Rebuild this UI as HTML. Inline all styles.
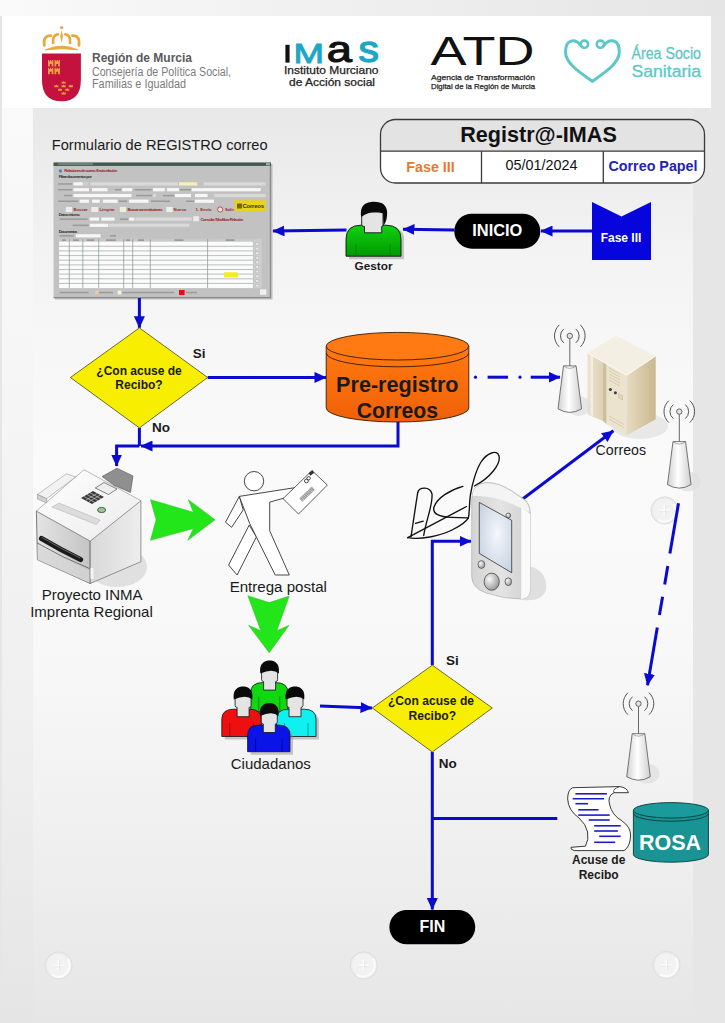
<!DOCTYPE html>
<html><head><meta charset="utf-8"><title>Registro IMAS</title>
<style>
html,body{margin:0;padding:0;width:725px;height:1023px;overflow:hidden;background:#e6e6e6}
svg{position:absolute;left:0;top:0;display:block}
text{font-family:"Liberation Sans",sans-serif}
</style></head><body>
<svg width="725" height="1023" viewBox="0 0 725 1023">
<defs>
<linearGradient id="gPanel" x1="0" y1="108" x2="0" y2="1023" gradientUnits="userSpaceOnUse">
<stop offset="0" stop-color="#e8e8e8"/>
<stop offset="0.057" stop-color="#ececec"/>
<stop offset="0.155" stop-color="#f3f3f3"/>
<stop offset="0.264" stop-color="#f7f7f7"/>
<stop offset="0.396" stop-color="#fafafa"/>
<stop offset="0.592" stop-color="#f8f8f8"/>
<stop offset="0.811" stop-color="#efefef"/>
<stop offset="1" stop-color="#e6e6e6"/>
</linearGradient>
<linearGradient id="gTop" x1="0" y1="0" x2="725" y2="0" gradientUnits="userSpaceOnUse"><stop offset="0" stop-color="#fafafa"/><stop offset="0.2" stop-color="#f5f5f5"/><stop offset="0.6" stop-color="#ededed"/><stop offset="1" stop-color="#e5e5e5"/></linearGradient>
<linearGradient id="gStrip" x1="0" y1="0" x2="0" y2="1023" gradientUnits="userSpaceOnUse">
<stop offset="0" stop-color="#fbfbfb"/>
<stop offset="0.4" stop-color="#f5f5f5"/>
<stop offset="0.72" stop-color="#efefef"/>
<stop offset="1" stop-color="#e5e5e5"/>
</linearGradient>
</defs>

<!-- BACKGROUND -->
<rect x="0" y="0" width="725" height="1023" fill="#e6e6e6"/>
<rect x="0" y="0" width="725" height="16" fill="url(#gTop)"/>
<rect x="2" y="16" width="31" height="1007" fill="url(#gStrip)"/>
<rect x="33" y="108" width="660" height="915" fill="url(#gPanel)"/>
<rect x="2" y="16" width="709" height="92" fill="#ffffff"/>
<!-- SCREWS -->
<defs>
<g id="screw">
<circle cx="0" cy="0" r="13.6" fill="#ececec" stroke="#dedede" stroke-width="1"/>
<circle cx="-0.6" cy="-0.6" r="11" fill="#f2f2f2"/>
<path d="M9.5,-6 A11.5,11.5 0 0 1 -6,9.8" fill="none" stroke="#fbfbfb" stroke-width="2.2" stroke-linecap="round"/>
<path d="M-5.5,0 H5 M-0.3,-5.5 V5" stroke="#fcfcfc" stroke-width="1.6"/>
<path d="M-5.5,1.2 H5 M1,-5.5 V5" stroke="#dcdcdc" stroke-width="0.5"/>
</g>
</defs>
<use href="#screw" x="58.6" y="965.6"/>
<use href="#screw" x="363.8" y="965.4"/>
<use href="#screw" x="666.5" y="965"/>
<use href="#screw" x="664.6" y="510.4"/>



<!-- HEADER: Region de Murcia -->
<g id="murcia">
<g fill="none" stroke="#eba83a" stroke-width="2.7" stroke-linecap="round">
<path d="M44.3,45.5 C43.2,38.5 45.5,35.5 50.8,35.6"/>
<path d="M78.9,45.5 C80,38.5 77.7,35.5 72.4,35.6"/>
<path d="M53.2,43 C52.6,37.5 54.4,34.5 57.9,34.3"/>
<path d="M70,43 C70.6,37.5 68.8,34.5 65.3,34.3"/>
</g>
<path d="M61.6,30.2 L63,36 L61.6,42.8 L60.2,36 Z" fill="#eba83a"/>
<circle cx="61.6" cy="27.6" r="1.6" fill="#eba83a"/>
<path d="M45.5,49.8 Q61.6,42.5 77.7,49.8 Q61.6,47.6 45.5,49.8 Z" fill="#eba83a" stroke="#eba83a" stroke-width="1" stroke-linejoin="round"/>
<path d="M42,53.6 H80.9 V80 Q80.9,101.3 61.5,101.3 Q42,101.3 42,80 Z" fill="#c4123e"/>
<g fill="#f2a044">
<path d="M48,66.5 V60 H49.2 V61.2 H50.1 V60 H51.3 V61.2 H52.2 V60 H53.4 V66.5 H51.6 V64 H49.8 V66.5 Z"/><path d="M54.5,66.5 V60 H55.7 V61.2 H56.6 V60 H57.8 V61.2 H58.7 V60 H59.9 V66.5 H58.1 V64 H56.3 V66.5 Z"/><path d="M48,74.3 V67.8 H49.2 V69.0 H50.1 V67.8 H51.3 V69.0 H52.2 V67.8 H53.4 V74.3 H51.6 V71.8 H49.8 V74.3 Z"/><path d="M54.5,74.3 V67.8 H55.7 V69.0 H56.6 V67.8 H57.8 V69.0 H58.7 V67.8 H59.9 V74.3 H58.1 V71.8 H56.3 V74.3 Z"/><path d="M61.6,83.60000000000001 V81.2 L62.6,82.2 L63.6,80.9 L64.6,82.2 L65.6,81.2 V83.60000000000001 Z"/><path d="M54.4,87.2 V84.8 L55.4,85.8 L56.4,84.5 L57.4,85.8 L58.4,84.8 V87.2 Z"/><path d="M61.6,87.2 V84.8 L62.6,85.8 L63.6,84.5 L64.6,85.8 L65.6,84.8 V87.2 Z"/><path d="M68.8,87.2 V84.8 L69.8,85.8 L70.8,84.5 L71.8,85.8 L72.8,84.8 V87.2 Z"/><path d="M58,90.80000000000001 V88.4 L59,89.4 L60,88.10000000000001 L61,89.4 L62,88.4 V90.80000000000001 Z"/><path d="M65.2,90.80000000000001 V88.4 L66.2,89.4 L67.2,88.10000000000001 L68.2,89.4 L69.2,88.4 V90.80000000000001 Z"/><path d="M61.6,94.4 V92 L62.6,93 L63.6,91.7 L64.6,93 L65.6,92 V94.4 Z"/>
</g>
<text x="92" y="62" font-size="12" font-weight="bold" fill="#58595b">Región de Murcia</text>
<text x="92" y="75.5" font-size="12" fill="#7b7c7e" textLength="139" lengthAdjust="spacingAndGlyphs">Consejería de Política Social,</text>
<text x="92" y="87.5" font-size="12" fill="#7b7c7e" textLength="94" lengthAdjust="spacingAndGlyphs">Familias e Igualdad</text>
</g>

<!-- HEADER: IMAS -->
<g id="imas">
<rect x="285.4" y="44.8" width="4.2" height="17.8" fill="#111"/>
<text x="293.5" y="62.6" font-size="27" fill="#1fa6c6" stroke="#1fa6c6" stroke-width="0.9" textLength="30.5" lengthAdjust="spacingAndGlyphs">M</text>
<text x="326.8" y="62.4" font-size="36.5" fill="#111" stroke="#111" stroke-width="1.1" textLength="25.2" lengthAdjust="spacingAndGlyphs">a</text>
<text x="358.6" y="62.4" font-size="36" font-weight="normal" fill="#1fa6c6" stroke="#1fa6c6" stroke-width="1.3" textLength="20.4" lengthAdjust="spacingAndGlyphs">s</text>
<text x="284" y="74.3" font-size="10.5" fill="#222" stroke="#222" stroke-width="0.25" textLength="94.5" lengthAdjust="spacingAndGlyphs">Instituto Murciano</text>
<text x="289" y="86" font-size="10.5" fill="#222" stroke="#222" stroke-width="0.25" textLength="86" lengthAdjust="spacingAndGlyphs">de Acción social</text>
</g>

<!-- HEADER: ATD -->
<g id="atd">
<text x="430.5" y="65.3" font-size="40" fill="#111" textLength="104" lengthAdjust="spacingAndGlyphs">ATD</text>
<text x="431" y="79.7" font-size="7.8" fill="#222" stroke="#222" stroke-width="0.25" textLength="104" lengthAdjust="spacingAndGlyphs">Agencia de Transformación</text>
<text x="431" y="88.6" font-size="7.8" fill="#222" stroke="#222" stroke-width="0.25" textLength="104" lengthAdjust="spacingAndGlyphs">Digital de la Región de Murcia</text>
</g>

<!-- HEADER: Area Socio Sanitaria -->
<g id="ass">
<path d="M580.8,45.5 C575,38 565.5,39 565.5,52 C565.5,63 579,72 592.3,81.3 C605.5,72 619.3,63 619.3,52 C619.3,39 609.6,38 603.8,45.5" fill="none" stroke="#5cc7c7" stroke-width="3" stroke-linecap="round"/>
<circle cx="584.4" cy="44.3" r="3.7" fill="none" stroke="#5cc7c7" stroke-width="2.6"/>
<circle cx="600.4" cy="44.3" r="3.7" fill="none" stroke="#5cc7c7" stroke-width="2.6"/>
<text x="631.5" y="59" font-size="14.2" fill="#5cc7c7" stroke="#5cc7c7" stroke-width="0.25" textLength="79" lengthAdjust="spacingAndGlyphs" transform="translate(631.5,59) scale(0.88,1.1) translate(-631.5,-59)">Área Socio</text>
<text x="631.5" y="76.7" font-size="14.2" fill="#5cc7c7" stroke="#5cc7c7" stroke-width="0.25" textLength="79" lengthAdjust="spacingAndGlyphs" transform="translate(631.5,76.7) scale(0.88,1.1) translate(-631.5,-76.7)">Sanitaria</text>
</g>

<!-- TITLE BOX -->
<g id="titlebox">
<path d="M380.5,151.2 V134.5 Q380.5,119.5 395.5,119.5 H689.5 Q704.5,119.5 704.5,134.5 V151.2 Z" fill="#e3e3e3"/>
<path d="M380.5,151.2 V168 Q380.5,183 395.5,183 H689.5 Q704.5,183 704.5,168 V151.2 Z" fill="#ffffff"/>
<rect x="380.5" y="119.5" width="324" height="63.5" rx="15" ry="15" fill="none" stroke="#3a3a3a" stroke-width="1.3"/>
<line x1="380.5" y1="151.2" x2="704.5" y2="151.2" stroke="#3a3a3a" stroke-width="1.3"/>
<line x1="481.5" y1="151.2" x2="481.5" y2="183" stroke="#3a3a3a" stroke-width="1.3"/>
<line x1="603.3" y1="151.2" x2="603.3" y2="183" stroke="#3a3a3a" stroke-width="1.3"/>
<text x="538.5" y="142" font-size="21.6" font-weight="bold" fill="#111" text-anchor="middle">Registr@-IMAS</text>
<text x="430.5" y="171.8" font-size="14.3" font-weight="bold" fill="#e8782a" text-anchor="middle">Fase III</text>
<text x="541.5" y="170.1" font-size="14.4" fill="#111" text-anchor="middle">05/01/2024</text>
<text x="653" y="171.3" font-size="14.3" font-weight="bold" fill="#2323b4" text-anchor="middle">Correo Papel</text>
</g>

<text x="51.8" y="149.6" font-size="14.6" fill="#1a1a1a">Formulario de REGISTRO correo</text>

<!-- FORM SCREENSHOT -->
<g id="form">
<rect x="55" y="164" width="217.5" height="135.5" fill="#9a9a9a" opacity="0.6"/>
<rect x="53.5" y="162.5" width="217.5" height="135.5" fill="#c2c2c2"/>
<rect x="53.5" y="162.5" width="217.5" height="3.4" fill="#3f5a4c"/>
<rect x="58" y="163.3" width="35" height="1.4" fill="#7f9588"/>
<rect x="266" y="163" width="4" height="2.4" fill="#9aa"/>
<rect x="269.8" y="166" width="1.2" height="132" fill="#8c8c8c"/>
<!-- header texts -->
<circle cx="60.4" cy="170.9" r="1.6" fill="#5a7ab8"/>
<text x="64.2" y="172.4" font-size="4.2" font-weight="bold" fill="#9a2a2a" textLength="53">Relaciones de correo: Envío relación</text>
<text x="58.8" y="178" font-size="4.2" font-weight="bold" fill="#333" textLength="33">Filtrar documentos por</text>
<!-- row1 -->
<g fill="#8a8a8a" opacity="0.7">
<rect x="58" y="183.2" width="14" height="1.5"/>
<rect x="58" y="189" width="14" height="1.5"/>
<rect x="64" y="194.8" width="8" height="1.5"/>
<rect x="58" y="200.5" width="20" height="1.5"/>
<rect x="115" y="189" width="6" height="1.5"/>
<rect x="134.5" y="189" width="17" height="1.5"/>
<rect x="136" y="194.8" width="16" height="1.5"/>
<rect x="119" y="200.5" width="8" height="1.5"/>
<rect x="161" y="183.2" width="17" height="1.5"/>
<rect x="180" y="189" width="11" height="1.5"/>
<rect x="163" y="194.8" width="11" height="1.5"/>
<rect x="151" y="200.5" width="19" height="1.5"/>
<rect x="186" y="200.5" width="8" height="1.5"/>
<rect x="59.6" y="218.4" width="28" height="1.5"/>
<rect x="120" y="218.4" width="8" height="1.5"/>
<rect x="72.7" y="224.6" width="16" height="1.5"/>
<rect x="59.6" y="235.1" width="14" height="1.5"/>
<rect x="110" y="235.1" width="6" height="1.5"/>
<rect x="59.6" y="291.8" width="29" height="1.5"/>
<rect x="99" y="291.8" width="14" height="1.5"/>
<rect x="122" y="291.8" width="52" height="1.5"/>
<rect x="186" y="291.8" width="11" height="1.5"/>
</g>
<g fill="#f7f7f7">
<rect x="73.5" y="182.3" width="9.3" height="3.2"/>
<rect x="83.5" y="182.3" width="4.7" height="3.2" fill="#cfcfcf"/>
<rect x="73.5" y="188.1" width="15.5" height="3.2"/>
<rect x="92" y="188.1" width="15.5" height="3.2"/>
<rect x="122.2" y="188.1" width="10" height="3.2"/>
<rect x="153" y="188.1" width="11.8" height="3.2"/>
<rect x="167" y="188.1" width="12" height="3.2"/>
<rect x="191.7" y="188.1" width="69" height="3.2"/>
<rect x="73.5" y="193.9" width="58" height="3.2"/>
<rect x="175" y="193.9" width="16" height="3.2"/>
<rect x="195" y="193.9" width="12.6" height="3.2"/>
<rect x="79.7" y="199.6" width="9.3" height="3.2"/>
<rect x="92" y="199.6" width="7.8" height="3.2"/>
<rect x="102.9" y="199.6" width="14.6" height="3.2"/>
<rect x="129.1" y="199.6" width="19.4" height="3.2"/>
<rect x="195" y="199.6" width="19" height="3.2"/>
<rect x="89.7" y="217.5" width="9.3" height="3.2"/>
<rect x="101.3" y="217.5" width="13.2" height="3.2"/>
<rect x="129.1" y="217.5" width="5.4" height="3.2"/>
<rect x="89.7" y="223.7" width="18.6" height="3.2"/>
<rect x="75.8" y="234.2" width="24.7" height="3.2"/>
</g>
<g fill="#d9d9d9">
<rect x="90.5" y="182.3" width="87.5" height="3.2"/>
<rect x="203.6" y="182.3" width="62" height="3.2"/>
<rect x="153" y="193.9" width="3" height="3.2"/>
<rect x="214" y="193.9" width="51.5" height="3.2"/>
<rect x="135.3" y="217.5" width="56.4" height="3.2"/>
<rect x="109" y="223.7" width="80.4" height="3.2"/>
</g>
<rect x="179" y="182.3" width="18.3" height="3.2" fill="#f4f2b8"/>
<!-- buttons row -->
<rect x="65.8" y="207" width="6.2" height="5" fill="#ececec"/>
<rect x="91.3" y="207" width="6.9" height="5" fill="#f2e8e8"/>
<rect x="119.9" y="207" width="6.1" height="5" fill="#f0f0d8"/>
<rect x="166.3" y="207" width="6.4" height="5" fill="#e8f2e8"/>
<circle cx="220.2" cy="209.5" r="2.6" fill="#f0e0e0" stroke="#c03030" stroke-width="0.8"/>
<g fill="#9a2a2a" font-size="4.2" font-weight="bold">
<text x="73.5" y="211">Buscar</text>
<text x="99.5" y="211">Limpiar</text>
<text x="127.6" y="211" textLength="35">Buscar con restricciones</text>
<text x="173.5" y="211">Nuevo</text>
<text x="195.5" y="211">1. Envío</text>
<text x="225" y="211">Salir</text>
<text x="200.5" y="220.5" textLength="42.8">Consulta / Modificar Relación</text>
</g>
<rect x="193.3" y="216.2" width="5.6" height="5" fill="#ececec"/>
<rect x="234.6" y="200.2" width="31" height="11.1" fill="#e8d21c"/>
<rect x="237" y="203.5" width="5" height="5" fill="#5a4a10" opacity="0.8"/><text x="242.5" y="208.3" font-size="6" font-weight="bold" fill="#3a3010" textLength="21.5">Correos</text>

<text x="58.8" y="216" font-size="4.2" font-weight="bold" fill="#333" textLength="21">Datos retorno</text>
<text x="58.8" y="232.6" font-size="4.2" font-weight="bold" fill="#333" textLength="18.6">Documentos</text>
<!-- table -->
<rect x="59.1" y="238.8" width="193.8" height="3" fill="#c9c9c9"/>
<rect x="59.1" y="241.7" width="193.8" height="46.4" fill="#fbfbfb"/>
<g stroke="#9aa6a0" stroke-width="0.7">
<line x1="59.1" y1="246.3" x2="252.9" y2="246.3"/>
<line x1="59.1" y1="250.9" x2="252.9" y2="250.9"/>
<line x1="59.1" y1="255.6" x2="252.9" y2="255.6"/>
<line x1="59.1" y1="260.2" x2="252.9" y2="260.2"/>
<line x1="59.1" y1="264.9" x2="252.9" y2="264.9"/>
<line x1="59.1" y1="269.5" x2="252.9" y2="269.5"/>
<line x1="59.1" y1="274.1" x2="252.9" y2="274.1"/>
<line x1="59.1" y1="278.8" x2="252.9" y2="278.8"/>
<line x1="59.1" y1="283.4" x2="252.9" y2="283.4"/>
</g>
<g stroke="#8a9a94" stroke-width="0.75">
<line x1="69.3" y1="239" x2="69.3" y2="288"/>
<line x1="82.8" y1="239" x2="82.8" y2="288"/>
<line x1="98.7" y1="239" x2="98.7" y2="288"/>
<line x1="123.7" y1="239" x2="123.7" y2="288"/>
<line x1="132.7" y1="239" x2="132.7" y2="288"/>
<line x1="150.3" y1="239" x2="150.3" y2="288"/>
<line x1="207.6" y1="239" x2="207.6" y2="288"/>
</g>
<rect x="253.7" y="238.8" width="8" height="49.5" fill="#cdcdcd"/>
<g fill="#6a6a6a" opacity="0.6"><rect x="62.0" y="239.4" width="4" height="1.4"/><rect x="73.0" y="239.4" width="6" height="1.4"/><rect x="86.5" y="239.4" width="8" height="1.4"/><rect x="106.0" y="239.4" width="10" height="1.4"/><rect x="126.0" y="239.4" width="4" height="1.4"/><rect x="138.0" y="239.4" width="6" height="1.4"/><rect x="174.5" y="239.4" width="9" height="1.4"/><rect x="225.5" y="239.4" width="9" height="1.4"/></g>
<g fill="#efefef" stroke="#999" stroke-width="0.3"><rect x="256" y="242.5" width="2.6" height="2.6"/><rect x="256" y="247.1" width="2.6" height="2.6"/><rect x="256" y="251.8" width="2.6" height="2.6"/><rect x="256" y="256.4" width="2.6" height="2.6"/><rect x="256" y="261.0" width="2.6" height="2.6"/><rect x="256" y="265.6" width="2.6" height="2.6"/><rect x="256" y="270.3" width="2.6" height="2.6"/><rect x="256" y="274.9" width="2.6" height="2.6"/><rect x="256" y="279.5" width="2.6" height="2.6"/><rect x="256" y="284.2" width="2.6" height="2.6"/></g>
<rect x="224" y="272.3" width="13.8" height="5.1" fill="#eeee20"/>
<rect x="95.1" y="290.5" width="3.5" height="4" fill="#f3c79c"/>
<rect x="117.6" y="290.5" width="3.8" height="4" fill="#f4f4d8"/>
<rect x="179" y="290" width="5.6" height="5" fill="#e01010"/>
<rect x="260" y="289.3" width="6.3" height="5.5" fill="#f0f0f0"/>
<rect x="53.5" y="297" width="217.5" height="1.2" fill="#8a8a8a"/>
</g>

<!-- GESTOR -->
<defs>
<linearGradient id="gGreen" x1="0" y1="0" x2="0" y2="1">
<stop offset="0" stop-color="#10d010"/><stop offset="1" stop-color="#009a00"/>
</linearGradient>
<linearGradient id="gOrange" x1="0" y1="0" x2="0" y2="1">
<stop offset="0" stop-color="#ff7a10"/><stop offset="1" stop-color="#f06008"/>
</linearGradient>
<marker id="ah" viewBox="0 0 12 11" refX="11.5" refY="5.5" markerWidth="12" markerHeight="11" markerUnits="userSpaceOnUse" orient="auto">
<path d="M0,0 L12,5.5 L0,11 Z" fill="#0a0ad2"/>
</marker>
</defs>
<g id="gestor">
<g stroke="#111" stroke-width="0.9"><path d="M349,259.2 V238.2 Q349,228.2 361,228.2 H392 Q404,228.2 404,238.2 V259.2 Z" fill="#8a8a8a" opacity="0.45" stroke="none"/><path d="M346,256.2 V239.2 Q346,225.2 361,225.2 H386 Q401,225.2 401,239.2 V256.2 Z" fill="url(#gGreen)"/><path d="M356,256.2 V244.2 M390,256.2 V244.2" stroke="#0a6a0a" stroke-width="0.7"/><path d="M361.7,212 V225 Q361.7,226.5 364.5,226.5 V232.8 H381.7 V226.5 Q383,226.5 383,225 V212 Z" fill="#e4e4e4"/><path d="M361.2,217 C359.5,205 366,201.7 374,201.7 C382,201.7 388.5,205 387,216 C386.7,220 385.5,223 383.5,225.5 L383,213.5 Q372,209.5 361.2,217 Z" fill="#0a0a0a" stroke="none"/></g>
<text x="373.5" y="270" font-size="11.8" font-weight="bold" fill="#1a1a1a" text-anchor="middle">Gestor</text>
</g>

<!-- INICIO pill -->
<rect x="454.3" y="213.7" width="86" height="35" rx="17.5" fill="#000"/>
<text x="497.3" y="235.9" font-size="16.4" font-weight="bold" fill="#fff" text-anchor="middle">INICIO</text>

<!-- FASE III shape -->
<path d="M592,202 L621.5,216.5 L651,202 V260 H592 Z" fill="#0606dc"/>
<text x="621" y="241.7" font-size="12" font-weight="bold" fill="#fff" text-anchor="middle">Fase III</text>

<!-- ARROWS top -->
<g stroke="#0a0ad2" stroke-width="3" fill="none">
<line x1="592" y1="231" x2="541" y2="231" marker-end="url(#ah)"/>
<line x1="454.3" y1="230" x2="403" y2="229.3" marker-end="url(#ah)"/>
<line x1="346.5" y1="230" x2="273" y2="231.1" marker-end="url(#ah)"/>
<line x1="139.4" y1="298" x2="139.4" y2="327.8" marker-end="url(#ah)"/>
<line x1="207.7" y1="377.5" x2="326" y2="377.4" marker-end="url(#ah)"/>
<polyline points="139.4,427.9 139.4,446"/>
<polyline points="398,421.5 398,446 141,446" marker-end="url(#ah)"/>
<polyline points="139.4,446 116.6,446 116.6,466" marker-end="url(#ah)"/>
<line x1="520" y1="501" x2="613.4" y2="430.7" marker-end="url(#ah)"/>
<polyline points="432.3,665.2 432.3,541.3 471,541.3" marker-end="url(#ah)"/>
<line x1="320" y1="706" x2="372" y2="708" marker-end="url(#ah)"/>
<line x1="432.3" y1="752" x2="432.3" y2="909.5" marker-end="url(#ah)"/>
<line x1="432.3" y1="818.6" x2="557.3" y2="818.6"/>
<line x1="678.5" y1="503.3" x2="669.9" y2="553.6"/><line x1="667.8" y1="566" x2="664.7" y2="584.4"/><line x1="662.6" y1="596.7" x2="659.4" y2="615"/><line x1="657.3" y1="627.4" x2="647.5" y2="685.2" marker-end="url(#ah)"/>
</g>
<g stroke="#0a0ad2" stroke-width="3" fill="none">
<circle cx="475.5" cy="377.2" r="1.6" fill="#0a0ad2" stroke="none"/>
<line x1="487.6" y1="377.2" x2="508" y2="377.2"/>
<circle cx="520" cy="377.2" r="1.6" fill="#0a0ad2" stroke="none"/>
<line x1="530.7" y1="377.2" x2="560" y2="377.2" marker-end="url(#ah)"/>
</g>

<!-- DIAMONDS -->
<path d="M139.4,327.9 L207.7,377.5 L139.4,427.9 L70.4,377.5 Z" fill="#f8ee00" stroke="#4a4a20" stroke-width="0.8"/>
<text x="139" y="375" font-size="12" font-weight="bold" fill="#1a1a1a" text-anchor="middle">¿Con acuse de</text>
<text x="139" y="389" font-size="12" font-weight="bold" fill="#1a1a1a" text-anchor="middle">Recibo?</text>
<text x="192.8" y="358.4" font-size="13.5" font-weight="bold" fill="#1a1a1a">Si</text>
<text x="151.9" y="432.4" font-size="13.5" font-weight="bold" fill="#1a1a1a">No</text>

<path d="M432.3,665.2 L492.3,708 L432.3,752 L372.3,708 Z" fill="#f8ee00" stroke="#4a4a20" stroke-width="0.8"/>
<text x="431" y="705" font-size="12.1" font-weight="bold" fill="#1a1a1a" text-anchor="middle">¿Con acuse de</text>
<text x="432.3" y="720" font-size="12.1" font-weight="bold" fill="#1a1a1a" text-anchor="middle">Recibo?</text>
<text x="446" y="664.8" font-size="13.5" font-weight="bold" fill="#1a1a1a">Si</text>
<text x="438.8" y="768" font-size="13.5" font-weight="bold" fill="#1a1a1a">No</text>

<!-- CYLINDER Pre-registro -->
<g id="cyl1">
<path d="M326.2,346.2 V408 A71.3,14 0 0 0 468.8,408 V346.2 Z" fill="url(#gOrange)" stroke="#3a1a00" stroke-width="0.9"/>
<ellipse cx="397.5" cy="346.2" rx="71.3" ry="13.8" fill="#ff7a12" stroke="#3a1a00" stroke-width="0.9"/>
<path d="M326.2,353 A71.3,13.8 0 0 0 468.8,353" fill="none" stroke="#3a1a00" stroke-width="0.9"/>
<text x="397.3" y="392.3" font-size="21.6" font-weight="bold" fill="#1a1a1a" text-anchor="middle">Pre-registro</text>
<text x="397.3" y="418" font-size="21.2" font-weight="bold" fill="#1a1a1a" text-anchor="middle">Correos</text>
</g>

<!-- FIN pill -->
<rect x="389.4" y="910" width="85.8" height="34.3" rx="17.2" fill="#000"/>
<text x="432.3" y="932" font-size="16" font-weight="bold" fill="#fff" text-anchor="middle">FIN</text>

<!-- ROSA cylinder -->
<g id="rosa">
<path d="M633.4,810.3 V854.5 A37.5,7.7 0 0 0 708.4,854.5 V810.3 Z" fill="#189494" stroke="#0a3a3a" stroke-width="0.9"/>
<ellipse cx="670.9" cy="810.3" rx="37.5" ry="7.7" fill="#1a9a9a" stroke="#0a3a3a" stroke-width="0.9"/>
<path d="M633.4,813.5 A37.5,7.7 0 0 0 708.4,813.5" fill="none" stroke="#0a3a3a" stroke-width="0.9"/>
<text x="670" y="849.6" font-size="21.5" font-weight="bold" fill="#fff" text-anchor="middle">ROSA</text>
</g>

<!-- GREEN ARROWS -->
<path d="M150.5,499.7 L193.4,512.3 L188.4,499.7 L215,519.8 L187.8,540.3 L193.4,528.5 L150.5,540.3 L156.1,519.8 Z" fill="#22e51a" stroke="#3ac030" stroke-width="0.6"/>
<path d="M247.9,595.8 L269.2,602.6 L289.2,596.1 L276.8,630.7 L288.9,625.4 L269.2,652.7 L248.7,625.4 L260.8,630.7 Z" fill="#22e51a" stroke="#3ac030" stroke-width="0.6"/>

<!-- PRINTER -->
<defs>
<linearGradient id="gPrFront" x1="0" y1="0" x2="1" y2="0">
<stop offset="0" stop-color="#e4e4e4"/><stop offset="1" stop-color="#c4c4c4"/>
</linearGradient>
<linearGradient id="gPrRight" x1="0" y1="0" x2="1" y2="0">
<stop offset="0" stop-color="#d8d8d8"/><stop offset="1" stop-color="#ededed"/>
</linearGradient>
<linearGradient id="gPrTop" x1="0" y1="0" x2="1" y2="1">
<stop offset="0" stop-color="#ffffff"/><stop offset="1" stop-color="#ebebeb"/>
</linearGradient>
</defs>
<g id="printer">
<ellipse cx="117" cy="567" rx="30" ry="20" fill="#d9d9d9" opacity="0.8"/>
<path d="M36.4,511 L90.2,541 L90.2,583.5 L37.4,559.7 Z" fill="url(#gPrFront)" stroke="#444" stroke-width="0.7"/>
<path d="M90.2,541 L140.9,500.7 L140.9,561.7 L90.2,583.5 Z" fill="url(#gPrRight)" stroke="#555" stroke-width="0.6"/>
<path d="M36.4,511 L84,469.7 L140.9,500.7 L90.2,541 Z" fill="url(#gPrTop)" stroke="#777" stroke-width="0.5"/>
<path d="M37.4,494.5 L66.4,473.8 L75.7,476.9 L46.7,498.6 Z" fill="#f2f2f2" stroke="#888" stroke-width="0.5"/>
<path d="M37.4,494.5 L46.7,498.6 L46.7,503 L37.4,499 Z" fill="#d0d0d0" stroke="#888" stroke-width="0.5"/>
<path d="M102,476.5 L117,468.2 L133,475.9 L130.5,492.4 L114,485.2 Z" fill="#8f8f8f" stroke="#555" stroke-width="0.6"/>
<path d="M51.9,507 L59,503 L100,520 L96.4,524.5 Z" fill="#dcdcdc" stroke="#aaa" stroke-width="0.5"/>
<path d="M95.3,488 L104,482.5 L117,489 L108.5,494.5 Z" fill="#eeeeee" stroke="#555" stroke-width="0.7"/>
<path d="M81,498 L93,491 L104,497 L92,504 Z" fill="#3a3a3a"/>
<g stroke="#ddd" stroke-width="0.6">
<line x1="84" y1="496.5" x2="95" y2="502.5"/><line x1="87" y1="494.5" x2="98" y2="500.5"/><line x1="90" y1="492.8" x2="101" y2="498.8"/>
<line x1="86" y1="500" x2="97" y2="493.5"/><line x1="89" y1="501.7" x2="100" y2="495.2"/>
</g>
<ellipse cx="101.6" cy="510" rx="4" ry="2.6" fill="#9cc89c" stroke="#2a5a2a" stroke-width="0.9"/>
<path d="M41.5,538.5 Q60,549.5 80.5,559.5" fill="none" stroke="#1a1a1a" stroke-width="5.2" stroke-linecap="round"/><path d="M42,537.5 Q60,548 80,558" fill="none" stroke="#666" stroke-width="1" stroke-linecap="round"/>
<path d="M37.2,543 Q62,557.5 89.5,568.5" fill="none" stroke="#555" stroke-width="0.8"/><path d="M37.4,545 Q62,559 89.5,570.5 L89.5,583 Q62,571 37.4,559.7 Z" fill="#d6d6d6" opacity="0.7"/><rect x="90.5" y="568" width="3" height="11" fill="#f4f4f4"/>
</g>
<text x="92.2" y="599.5" font-size="15" fill="#1a1a1a" text-anchor="middle">Proyecto INMA</text>
<text x="91.5" y="617.3" font-size="15" fill="#1a1a1a" text-anchor="middle">Imprenta Regional</text>

<!-- WALKING MAN -->
<g id="walker" fill="#fff" stroke="#333" stroke-width="0.9" stroke-linejoin="miter">
<path d="M239.3,496.4 L225.5,522.2 L231.6,527.3 L243.2,509.9 Z"/>
<path d="M249.2,525.1 L228.6,565 L237.1,575 L256.4,536.9 Z"/>
<path d="M239.3,496.4 L296,487.5 L298,498 L283.5,498.3 L269.7,502.1 L269.7,530.8 L289.3,575 L275.2,575 L249.8,523.7 Z"/>
<circle cx="254" cy="481.2" r="9.7"/>
<path d="M283,498.6 L312,470.6 L327.4,485.1 L298.5,514 Z" stroke-width="0.8"/>
<path d="M301,500 L313.5,488" stroke="#777" stroke-width="4.6" stroke-dasharray="0.7 0.45"/>
<path d="M309.5,474.5 L313.3,471.5" stroke="#333" stroke-width="3"/>
<circle cx="306.4" cy="481" r="1.9" fill="none" stroke="#333" stroke-width="0.9"/><circle cx="308.6" cy="478.3" r="1.7" fill="none" stroke="#333" stroke-width="0.9"/>
</g>
<text x="278.3" y="591.8" font-size="15.1" fill="#1a1a1a" text-anchor="middle">Entrega postal</text>

<!-- PEOPLE -->
<defs>
<g id="person">
<path d="M-17,28 V13 Q-17,0 -2,-0.5 H2 Q17,0 17,13 V28 Z" fill="#777" opacity="0.35" transform="translate(3,2)"/>
</g>
</defs>
<g id="people" stroke="#111" stroke-width="0.8">
<path d="M253.7,715 V695.6 Q253.7,685.6 265.7,685.6 H278.8 Q290.8,685.6 290.8,695.6 V715 Z" fill="#8a8a8a" opacity="0.45" stroke="none"/><path d="M250.7,712 V692.6 Q250.7,682.6 262.7,682.6 H275.8 Q287.8,682.6 287.8,692.6 V712 Z" fill="#10d810"/><path d="M258.7,712 V696.6 M279.8,712 V696.6" stroke="#066a06" stroke-width="0.7"/><path d="M261.6,669.6 V679.6 Q261.6,681.6 263.6,681.6 V690.1 H275.6 V681.6 Q277.6,681.6 277.6,679.6 V669.6 Z" fill="#e4e4e4"/><path d="M260.4,673.6 C258.8,662.6 265.6,660.6 269.6,660.6 C273.6,660.6 280.4,662.6 278.8,673.6 Q272.6,668.1 260.4,673.6 Z" fill="#0a0a0a" stroke="none"/>
<path d="M224.8,739.5 V722.2 Q224.8,712.2 236.8,712.2 H252.3 Q264.3,712.2 264.3,722.2 V739.5 Z" fill="#8a8a8a" opacity="0.45" stroke="none"/><path d="M221.8,736.5 V719.2 Q221.8,709.2 233.8,709.2 H249.3 Q261.3,709.2 261.3,719.2 V736.5 Z" fill="#ee1010"/><path d="M229.8,736.5 V723.2 M253.3,736.5 V723.2" stroke="#700" stroke-width="0.7"/><path d="M235.1,695.4 V705.4 Q235.1,707.4 237.1,707.4 V716.7 H249.1 V707.4 Q251.1,707.4 251.1,705.4 V695.4 Z" fill="#e4e4e4"/><path d="M233.9,699.4 C232.3,688.4 239.1,686.4 243.1,686.4 C247.1,686.4 253.9,688.4 252.3,699.4 Q246.1,693.9 233.9,699.4 Z" fill="#0a0a0a" stroke="none"/>
<path d="M279.5,739.5 V722.2 Q279.5,712.2 291.5,712.2 H307 Q319,712.2 319,722.2 V739.5 Z" fill="#8a8a8a" opacity="0.45" stroke="none"/><path d="M276.5,736.5 V719.2 Q276.5,709.2 288.5,709.2 H304 Q316,709.2 316,719.2 V736.5 Z" fill="#10f0f0"/><path d="M284.5,736.5 V723.2 M308.0,736.5 V723.2" stroke="#077" stroke-width="0.7"/><path d="M287.0,695.4 V705.4 Q287.0,707.4 289.0,707.4 V716.7 H301.0 V707.4 Q303.0,707.4 303.0,705.4 V695.4 Z" fill="#e4e4e4"/><path d="M285.8,699.4 C284.2,688.4 291.0,686.4 295.0,686.4 C299.0,686.4 305.8,688.4 304.2,699.4 Q298.0,693.9 285.8,699.4 Z" fill="#0a0a0a" stroke="none"/>
<path d="M250.6,754.7 V738 Q250.6,728 262.6,728 H281 Q293,728 293,738 V754.7 Z" fill="#8a8a8a" opacity="0.45" stroke="none"/><path d="M247.6,751.7 V735 Q247.6,725 259.6,725 H278 Q290,725 290,735 V751.7 Z" fill="#0a14e6"/><path d="M255.6,751.7 V739 M282.0,751.7 V739" stroke="#006" stroke-width="0.7"/><path d="M261.3,712.0 V722.0 Q261.3,724.0 263.3,724.0 V732.5 H275.3 V724.0 Q277.3,724.0 277.3,722.0 V712.0 Z" fill="#e4e4e4"/><path d="M260.1,716.0 C258.5,705.0 265.3,703 269.3,703 C273.3,703 280.1,705.0 278.5,716.0 Q272.3,710.5 260.1,716.0 Z" fill="#0a0a0a" stroke="none"/>
</g>
<text x="270.8" y="769.2" font-size="15" fill="#1a1a1a" text-anchor="middle">Ciudadanos</text>

<!-- SERVER -->
<defs>
<linearGradient id="gSrvR" x1="0" y1="0" x2="1" y2="0">
<stop offset="0" stop-color="#e6dcc2"/><stop offset="1" stop-color="#c9b78e"/>
</linearGradient>
<linearGradient id="gSrvL" x1="0" y1="0" x2="1" y2="0">
<stop offset="0" stop-color="#ece4d0"/><stop offset="1" stop-color="#ddd2b6"/>
</linearGradient>
<linearGradient id="gAnt" x1="0" y1="0" x2="1" y2="0">
<stop offset="0" stop-color="#d0d0d0"/><stop offset="0.45" stop-color="#ffffff"/><stop offset="1" stop-color="#cfcfcf"/>
</linearGradient>
<linearGradient id="gPda" x1="0" y1="0" x2="1" y2="0">
<stop offset="0" stop-color="#d4d4d4"/><stop offset="0.5" stop-color="#e4e4e4"/><stop offset="1" stop-color="#cfcfcf"/>
</linearGradient>
<radialGradient id="gScreen" cx="0.55" cy="0.45" r="0.7">
<stop offset="0" stop-color="#f4f7fb"/><stop offset="1" stop-color="#c4cfdf"/>
</radialGradient>
<radialGradient id="gBtn" cx="0.35" cy="0.35" r="0.8">
<stop offset="0" stop-color="#f8f8f8"/><stop offset="1" stop-color="#8a8a8a"/>
</radialGradient>
<g id="antenna">
<ellipse cx="9" cy="70" rx="12" ry="10" fill="#dedede" opacity="0.7"/>
<path d="M-6.3,30 L6.3,30 L11.8,73 Q0,80 -11.8,73 Z" fill="url(#gAnt)" stroke="#555" stroke-width="0.8"/>
<path d="M-6.3,30 Q0,35 6.3,30" fill="none" stroke="#777" stroke-width="0.6"/>
<line x1="0" y1="2.7" x2="0" y2="30" stroke="#666" stroke-width="1"/>
<circle cx="0" cy="0" r="2.7" fill="#e4e4e4" stroke="#555" stroke-width="0.9"/>
<g fill="none" stroke="#555" stroke-width="1">
<path d="M-6,-7 A9,9 0 0 0 -6,7"/><path d="M6,-7 A9,9 0 0 1 6,7"/>
<path d="M-10.5,-11 A15,15 0 0 0 -10.5,11"/><path d="M10.5,-11 A15,15 0 0 1 10.5,11"/>
</g>
</g>
</defs>
<g id="server">
<ellipse cx="640" cy="426" rx="28" ry="13" fill="#dcdcdc" opacity="0.6"/>
<path d="M587.4,352.9 L603,362 L603,421 L587.4,414.4 Z" fill="url(#gSrvL)"/>
<path d="M590.5,355 L593,356.5 V416 L590.5,415 Z" fill="#f6f1e4" opacity="0.8"/>
<path d="M603,362 L606.7,364.2 L606.7,424.3 L603,421 Z" fill="#cdbf9c"/>
<path d="M606.7,364.2 L626.5,375.3 L626.5,435.4 L606.7,424.3 Z" fill="#ebe3ce"/>
<path d="M626.5,375.3 L655.7,356 L655.7,419.3 L626.5,435.4 Z" fill="url(#gSrvR)"/>
<path d="M587.4,352.9 L616,335.5 L655.7,356 L626.5,375.3 Z" fill="#f4efe3"/>
<path d="M587.4,352.9 L626.5,375.3 L655.7,356" fill="none" stroke="#fbf8f0" stroke-width="1"/>
<g stroke="#c9bd9c" stroke-width="0.6">
<line x1="609" y1="368" x2="620" y2="374"/><line x1="609" y1="371" x2="620" y2="377"/><line x1="609" y1="374" x2="620" y2="380"/><line x1="609" y1="377" x2="620" y2="383"/><line x1="609" y1="380" x2="620" y2="386"/>
<line x1="609" y1="416" x2="624" y2="424.5"/><line x1="609" y1="419" x2="624" y2="427.5"/>
</g>
<circle cx="610.4" cy="389.5" r="1.5" fill="#3a3a3a"/><circle cx="615.4" cy="392.7" r="1.5" fill="#3a3a3a"/>
<path d="M618.5,393.5 L622.5,395.7 L622.5,400 L618.5,397.8 Z" fill="#e0d6bc" stroke="#b8aa88" stroke-width="0.4"/>
</g>
<text x="620.8" y="454.8" font-size="14.2" fill="#1a1a1a" text-anchor="middle">Correos</text>

<use href="#antenna" x="569.8" y="335.9"/>
<use href="#antenna" x="679.3" y="411.6"/>
<use href="#antenna" x="638.5" y="703.7"/>

<!-- PDA -->
<g id="pda">
<path d="M528,566 Q548,570 546,590 Q542,602 522,600 Z" fill="#dcdcdc" opacity="0.9"/>
<path d="M471.7,500 Q471.7,484 486,482.5 Q498,482 512,491 L524,499 Q530.3,504 530.3,514 V588 Q530.3,599 521,599 Q504,599 486,593 Q471.7,588 471.7,576 Z" fill="url(#gPda)" stroke="#a8a8a8" stroke-width="0.6"/>
<path d="M472.5,496 Q473,485 486,483.5 Q498,483 512,492 L523,499.5 Q529.5,504 529.5,512 Q520,508 510,503 Q492,495 472.5,496 Z" fill="#f4f4f4"/>
<path d="M520.7,508 Q526,510 530.3,514 V588 Q530.3,598 522,599 L520.7,599 Z" fill="#fafafa"/>
<path d="M520.7,508 V599" stroke="#c8c8c8" stroke-width="0.6"/>
<path d="M479.3,502.4 L511.7,520.3 L511.7,572.8 L479.3,553.4 Z" fill="url(#gScreen)" stroke="#333" stroke-width="0.8"/>
<ellipse cx="491.7" cy="581.7" rx="7.6" ry="8.6" fill="url(#gBtn)" stroke="#333" stroke-width="0.7"/>
<ellipse cx="481.4" cy="564.5" rx="3.4" ry="3.9" fill="url(#gBtn)" stroke="#333" stroke-width="0.6"/>
<ellipse cx="508.3" cy="581.7" rx="3.3" ry="3.9" fill="url(#gBtn)" stroke="#333" stroke-width="0.6"/>
<circle cx="508.3" cy="515.5" r="2.4" fill="url(#gBtn)" stroke="#333" stroke-width="0.6"/>
</g>

<!-- SIGNATURE -->
<g fill="none" stroke="#111" stroke-width="1.35" stroke-linecap="round" stroke-linejoin="round">
<path d="M417.7,492.5 L411,536.6"/>
<path d="M417.7,492.5 C419,487 430,486 432,494 C433,505 426,520 423.7,535.5"/>
<path d="M462.9,486.4 C450,490 437,498 434,507 C432,514 440,517 450.8,517.3 L468.4,517.8"/>
<path d="M407.7,537.7 L466.5,506.5"/>
<path d="M407.7,537.7 C420,540 440,536 452,530 C460,526 466,522 468.4,517.8"/>
<path d="M415.5,523.4 L423.2,521.2"/>
<path d="M468.4,517.8 C470,510 469,500 471,492 C472,485 476,470 481,462 C487,453 497,449 499,456 C501,464 490,478 474.4,486"/>
</g>

<!-- ACUSE SCROLL -->
<g id="scroll">
<path d="M572.7,787.7 L619.6,786.6 Q627,787.5 628.4,792.7 L614,792.7 Q607,796 609.7,805 Q612,815 621.8,820.8 Q631,827 630.6,836 Q630,847 624,850.6 L574.3,850.6 Q570,849.5 571,847.3 L585.4,846.2 Q589,840 587.6,832 Q586,824 579,818 Q568,810 567.7,799 Q567.5,790 572.7,787.7 Z" fill="#fff" stroke="#222" stroke-width="0.9"/>
<path d="M614,792.7 Q612,789 619.6,786.6" fill="none" stroke="#222" stroke-width="0.7"/>
<g stroke="#1c1cc8" stroke-width="1.6">
<line x1="575.4" y1="793.8" x2="606.9" y2="793.8"/>
<line x1="572.7" y1="798.8" x2="604.1" y2="798.8"/>
<line x1="575.4" y1="803.7" x2="588.1" y2="803.7"/>
<line x1="578.2" y1="809.8" x2="598.6" y2="809.8"/>
<line x1="578.2" y1="815.1" x2="609.7" y2="815.1"/>
<line x1="588.7" y1="820" x2="609.7" y2="820"/>
<line x1="594.2" y1="825.8" x2="620.7" y2="825.8"/>
<line x1="594.2" y1="831" x2="617.9" y2="831"/>
<line x1="599.2" y1="836.3" x2="620.7" y2="836.3"/>
<line x1="594.2" y1="842.3" x2="615.2" y2="842.3"/>
</g>
</g>
<text x="598.7" y="864.4" font-size="12" font-weight="bold" fill="#1a1a1a" text-anchor="middle">Acuse de</text>
<text x="598.7" y="878.8" font-size="12" font-weight="bold" fill="#1a1a1a" text-anchor="middle">Recibo</text>

<g id="content"></g>
</svg>
</body></html>
